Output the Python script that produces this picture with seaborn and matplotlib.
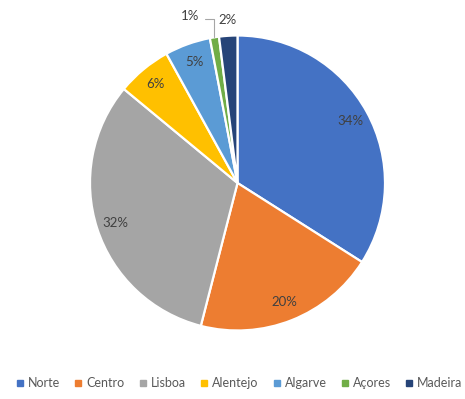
import numpy as np
import matplotlib
matplotlib.use("Agg")
import matplotlib.pyplot as plt
from matplotlib.lines import Line2D
import seaborn as sns

regions = ["Norte", "Centro", "Lisboa", "Alentejo", "Algarve", "Açores", "Madeira"]
shares = [34, 20, 32, 6, 5, 1, 2]
colors = ["#4472C4", "#ED7D31", "#A5A5A5", "#FFC000", "#5B9BD5", "#70AD47", "#264478"]

sns.set_theme(style="white")
plt.rcParams["font.family"] = ["Lato", "DejaVu Sans"]

W, H = 465, 399
fig = plt.figure(figsize=(W / 100, H / 100), dpi=100)
fig.patch.set_facecolor("white")

# square axes holding the pie (pixel geometry)
cx, cy, r = 237.5, 183.0, 147.5
ax = fig.add_axes([(cx - r) / W, (H - cy - r) / H, 2 * r / W, 2 * r / H])

wedges, _ = ax.pie(
    shares,
    colors=colors,
    startangle=90,
    counterclock=False,
    radius=1.0,
    wedgeprops=dict(edgecolor="white", linewidth=1.6),
)
ax.set_xlim(-1, 1)
ax.set_ylim(-1, 1)
ax.set_aspect("auto")
ax.axis("off")

total = float(sum(shares))
label_color = "#404040"
cum = 0.0
for name, v in zip(regions, shares):
    mid = (cum + v / 2) / total
    cum += v
    theta = np.deg2rad(90 - 360 * mid)
    txt = f"{v}%"
    if v >= 3:
        d = 0.87
        ax.text(d * np.cos(theta), d * np.sin(theta), txt, ha="center", va="center",
                fontsize=9.5, color=label_color)
    elif name == "Madeira":
        d = 1.11
        ax.text(d * np.cos(theta), d * np.sin(theta), txt, ha="center", va="center",
                fontsize=9.5, color=label_color, clip_on=False)
    else:
        ex, ey = np.cos(theta), np.sin(theta)
        lx, ly = -0.32, 1.13
        ax.text(lx, ly, txt, ha="center", va="center", fontsize=9.5,
                color=label_color, clip_on=False)
        ax.plot([lx + 0.1, ex, ex], [ly - 0.02, ly - 0.02, ey],
                color="#A6A6A6", linewidth=0.8, clip_on=False)

handles = [Line2D([], [], marker="s", linestyle="", markersize=4.5,
                  markerfacecolor=c, markeredgecolor=c) for c in colors]
fig.legend(handles, regions, loc="center", bbox_to_anchor=(0.514, 1 - 383 / H),
           ncol=7, frameon=False, fontsize=9, handlelength=0.7,
           handletextpad=0.3, columnspacing=1.1, labelcolor="#595959",
           borderpad=0.1, borderaxespad=0.0)

fig.savefig("out.png", dpi=100, facecolor="white")
